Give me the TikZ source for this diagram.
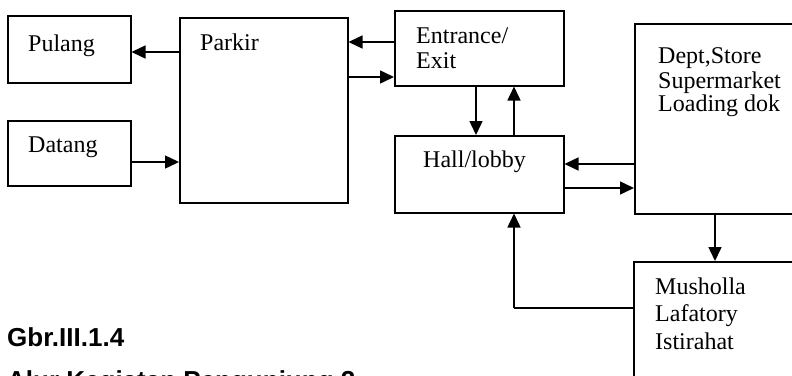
\documentclass[tikz,border=0pt]{standalone}
\usepackage{fontspec}
\setmainfont{Liberation Serif}
\newfontfamily\capfont{Liberation Sans}
\usetikzlibrary{arrows.meta}
\begin{document}
\begin{tikzpicture}[x=1pt,y=-1pt,
  box/.style={draw, line width=1.5pt, rectangle, anchor=north west, inner sep=0pt},
  lbl/.style={anchor=base west, inner sep=0pt, font=\fontsize{24}{24}\selectfont},
  arr/.style={line width=1.5pt, -{Triangle[length=14pt,width=13pt]}},
  ln/.style={line width=1.5pt},
  captxt/.style={anchor=base west, inner sep=0pt, font=\capfont\bfseries\fontsize{26}{26}\selectfont}]
\useasboundingbox (0,0) rectangle (792,375);
\clip (0,0) rectangle (792,375);
% boxes
\node[box, minimum width=123pt, minimum height=67pt] (pulang) at (7,15) {};
\node[box, minimum width=123pt, minimum height=65pt] (datang) at (7,120) {};
\node[box, minimum width=168pt, minimum height=185pt] (parkir) at (179,17) {};
\node[box, minimum width=169pt, minimum height=75pt] (entr) at (394,10) {};
\node[box, minimum width=169pt, minimum height=77pt] (hall) at (394,135) {};
\node[box, minimum width=200pt, minimum height=190pt] (dept) at (634,23) {};
\node[box, minimum width=200pt, minimum height=150pt] (mush) at (633,261) {};
% labels
\node[lbl] (tpulang) at (28,51) {Pulang};
\node[lbl] (tdatang) at (28,152) {Datang};
\node[lbl] (tparkir) at (200,50) {Parkir};
\node[lbl] (tentr1) at (416,43) {Entrance/};
\node[lbl] (tentr2) at (416,68) {Exit};
\node[lbl] (thall) at (423,167) {Hall/lobby};
\node[lbl] (tdept1) at (658,63) {Dept,Store};
\node[lbl] (tdept2) at (658,88) {Supermarket};
\node[lbl] (tdept3) at (658,111) {Loading dok};
\node[lbl] (tmush1) at (655,294) {Musholla};
\node[lbl] (tmush2) at (655,321) {Lafatory};
\node[lbl] (tmush3) at (655,349) {Istirahat};
\node[captxt] (cap1) at (7,346) {Gbr.III.1.4};
\node[captxt] (cap2) at (7,389) {Alur Kegiatan Pengunjung 2};
% connectors
\draw[arr] (parkir.west |- 0,52) -- (pulang.east |- 0,52);
\draw[arr] (datang.east |- 0,162) -- (parkir.west |- 0,162);
\draw[arr] (entr.west |- 0,42) -- (parkir.east |- 0,42);
\draw[arr] (parkir.east |- 0,77) -- (entr.west |- 0,77);
\draw[arr] (entr.south -| 476,0) -- (hall.north -| 476,0);
\draw[arr] (hall.north -| 514,0) -- (entr.south -| 514,0);
\draw[arr] (dept.west |- 0,164) -- (hall.east |- 0,164);
\draw[arr] (hall.east |- 0,188) -- (dept.west |- 0,188);
\draw[arr] (dept.south -| 715,0) -- (mush.north -| 715,0);
\coordinate (bend) at (514,308);
\draw[ln] (mush.west |- bend) -- (bend);
\draw[arr] (bend) -- (hall.south -| bend);
\end{tikzpicture}
\end{document}
